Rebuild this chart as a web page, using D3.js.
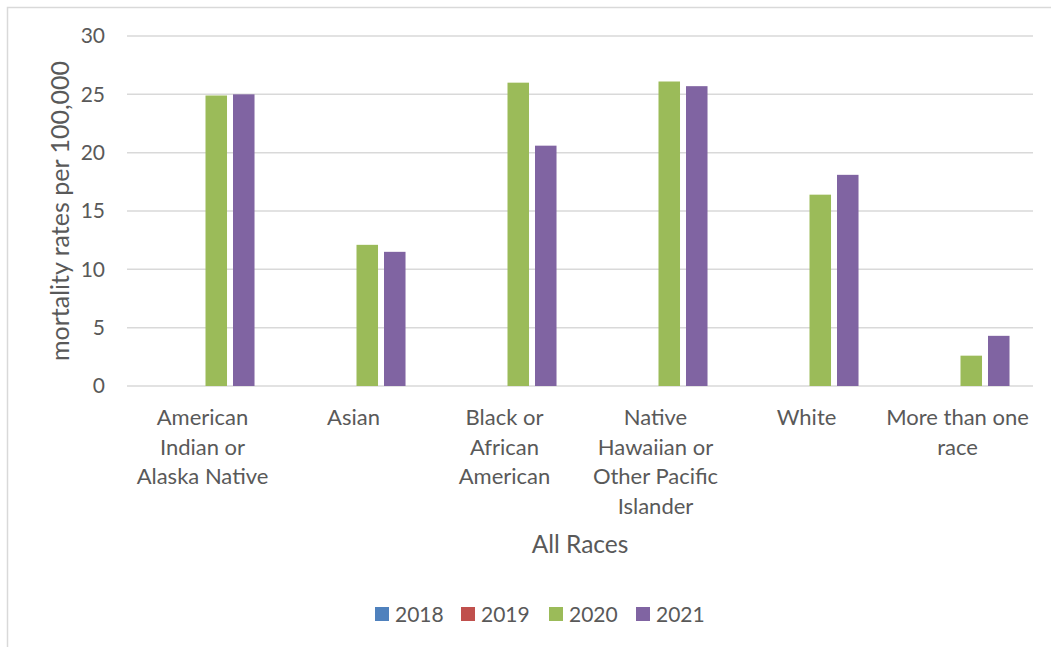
<!DOCTYPE html>
<html>
<head>
<meta charset="utf-8">
<script src="https://cdn.jsdelivr.net/npm/d3@7"></script>
<style>
  html, body { margin: 0; padding: 0; background: #fff; }
  svg { display: block; font-family: Lato, "Open Sans", sans-serif; }
</style>
</head>
<body>
<svg id="chart" width="1051" height="647"></svg>
<script>
// Race groups and how each one's axis label wraps
const categories = [
  "American Indian or Alaska Native",
  "Asian",
  "Black or African American",
  "Native Hawaiian or Other Pacific Islander",
  "White",
  "More than one race"
];
const categoryLabelLines = [
  ["American", "Indian or", "Alaska Native"],
  ["Asian"],
  ["Black or", "African", "American"],
  ["Native", "Hawaiian or", "Other Pacific", "Islander"],
  ["White"],
  ["More than one", "race"]
];

// Mortality rates per 100,000 by year (no values reported for 2018 and 2019)
const years = ["2018", "2019", "2020", "2021"];
const values2018 = [null, null, null, null, null, null];
const values2019 = [null, null, null, null, null, null];
const values2020 = [24.9, 12.1, 26.0, 26.1, 16.4, 2.6];
const values2021 = [25.0, 11.5, 20.6, 25.7, 18.1, 4.3];
const seriesValues = [values2018, values2019, values2020, values2021];
const seriesColors = ["#4f81bd", "#c0504d", "#9bbb59", "#8064a2"];

const yTicks = [0, 5, 10, 15, 20, 25, 30];
const yTitle = "mortality rates per 100,000";
const xTitle = "All Races";

const svg = d3.select("#chart");
const textColor = "#595959";
const plot = { left: 127, right: 1033, top: 36, bottom: 386 };

// Outer chart frame
svg.append("rect")
  .attr("x", 7.5).attr("y", 7.5)
  .attr("width", 1100).attr("height", 700)
  .attr("fill", "none")
  .attr("stroke", "#d9d9d9")
  .attr("stroke-width", 1.5);

const y = d3.scaleLinear().domain([0, 30]).range([plot.bottom, plot.top]);
const x0 = d3.scaleBand().domain(categories)
  .range([plot.left, plot.right])
  .paddingInner(0.311).paddingOuter(0.1555);
const x1 = d3.scaleBand().domain(years)
  .range([0, x0.bandwidth()])
  .paddingInner(0.218);

// Horizontal gridlines
svg.append("g")
  .selectAll("line")
  .data(yTicks)
  .join("line")
  .attr("x1", plot.left).attr("x2", plot.right)
  .attr("y1", d => y(d)).attr("y2", d => y(d))
  .attr("stroke", "#d9d9d9")
  .attr("stroke-width", 1.5);

// Y axis tick labels
const yAxis = d3.axisLeft(y).tickValues(yTicks).tickSize(0).tickPadding(0);
const yAxisG = svg.append("g")
  .attr("transform", `translate(${plot.left - 22},0)`)
  .call(yAxis);
yAxisG.select(".domain").remove();
yAxisG.selectAll("text")
  .attr("fill", textColor)
  .style("font-size", "21px")
  .style("font-family", "Lato, 'Open Sans', sans-serif");

// Bars
const rows = categories.map((c, i) => ({
  category: c,
  bars: years.map((yr, j) => ({ year: yr, value: seriesValues[j][i], color: seriesColors[j] }))
}));

svg.append("g")
  .selectAll("g")
  .data(rows)
  .join("g")
  .attr("transform", d => `translate(${x0(d.category)},0)`)
  .selectAll("rect")
  .data(d => d.bars.filter(b => b.value != null))
  .join("rect")
  .attr("x", d => x1(d.year))
  .attr("width", x1.bandwidth())
  .attr("y", d => y(d.value))
  .attr("height", d => y(0) - y(d.value))
  .attr("fill", d => d.color);

// Category labels under each group
const xLabels = svg.append("g");
categories.forEach((c, i) => {
  const cx = x0(c) + x0.bandwidth() / 2;
  const t = xLabels.append("text")
    .attr("x", cx).attr("y", 425)
    .attr("text-anchor", "middle")
    .attr("fill", textColor)
    .style("font-size", "22px");
  categoryLabelLines[i].forEach((line, k) => {
    t.append("tspan").attr("x", cx).attr("y", 425 + k * 29.5).text(line);
  });
});

// Axis titles
svg.append("text")
  .attr("transform", `translate(69,${(plot.top + plot.bottom) / 2}) rotate(-90)`)
  .attr("text-anchor", "middle")
  .attr("fill", textColor)
  .style("font-size", "25px")
  .text(yTitle);

svg.append("text")
  .attr("x", 580).attr("y", 553)
  .attr("text-anchor", "middle")
  .attr("fill", textColor)
  .style("font-size", "24.5px")
  .text(xTitle);

// Legend
const legendX = [375, 461, 549, 636];
const legend = svg.append("g");
years.forEach((yr, j) => {
  legend.append("rect")
    .attr("x", legendX[j]).attr("y", 607)
    .attr("width", 14).attr("height", 14)
    .attr("fill", seriesColors[j]);
  legend.append("text")
    .attr("x", legendX[j] + 20).attr("y", 621.5)
    .attr("fill", textColor)
    .style("font-size", "21px")
    .text(yr);
});
</script>
</body>
</html>
